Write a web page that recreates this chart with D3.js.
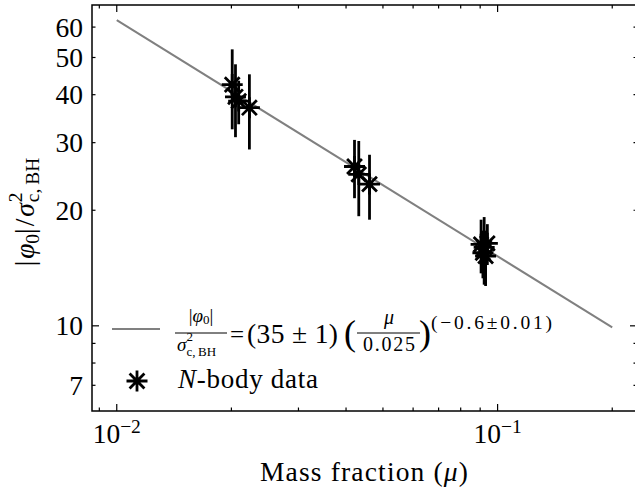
<!DOCTYPE html>
<html><head><meta charset="utf-8">
<script src="https://cdn.jsdelivr.net/npm/d3@7"></script>
<style>
body{margin:0;background:#fff}
svg{display:block}
text{font-family:"Liberation Serif","DejaVu Serif",serif;fill:#000}
</style>
</head><body>
<svg id="chart" width="635" height="489"></svg>
<script>
// ---- data ----
const muValues  = [0.0201, 0.0205, 0.0209, 0.0223, 0.0421, 0.0432, 0.0461, 0.0905, 0.0915, 0.0922, 0.0930, 0.0940];
const phiValues = [42.5, 39.5, 38.5, 37.0, 26.0, 24.8, 23.4, 16.3, 15.5, 16.0, 15.2, 16.4];
const errValues = [10.0, 8.5, 5.0, 8.2, 4.5, 5.5, 4.5, 2.6, 2.2, 3.2, 2.5, 2.0];
const fitAmp = 35.6, fitExp = -0.615, fitRef = 0.025;
const fitRange = [0.01, 0.2];
const xDomain = [0.00861, 0.2323];
const yDomain = [6.0, 68.5];
const xMajorTicks = [0.01, 0.1];
const xTickExponents = ["\u22122", "\u22121"];
const xMinorTicks = [0.009, 0.02, 0.03, 0.04, 0.05, 0.06, 0.07, 0.08, 0.09, 0.2];
const yMajorTicks = [10];
const yMinorTicks = [7, 8, 9, 20, 30, 40, 50, 60];
const yTickLabels = [7, 10, 20, 30, 40, 50, 60];

const svg = d3.select("#chart");
const L = 92, R = 637, T = 5, B = 411;
const x = d3.scaleLog().domain(xDomain).range([L, R]);
const y = d3.scaleLog().domain(yDomain).range([B, T]);

// fit line
const fitPts = fitRange.map(m => [m, fitAmp * Math.pow(m / fitRef, fitExp)]);
svg.append("path")
  .attr("d", d3.line().x(d => x(d[0])).y(d => y(d[1]))(fitPts))
  .attr("stroke", "#808080").attr("stroke-width", 2).attr("fill", "none");

// error bars
const pts = muValues.map((m, i) => ({m, p: phiValues[i], e: errValues[i]}));
svg.append("g").selectAll("line").data(pts).join("line")
  .attr("x1", d => x(d.m)).attr("x2", d => x(d.m))
  .attr("y1", d => y(d.p - d.e)).attr("y2", d => y(d.p + d.e))
  .attr("stroke", "#000").attr("stroke-width", 2.8);

// asterisk markers
function asterisk(r) {
  let s = "";
  for (let k = 0; k < 4; k++) {
    const a = k * Math.PI / 4;
    const dx = r * Math.cos(a), dy = r * Math.sin(a);
    s += `M${-dx},${-dy}L${dx},${dy}`;
  }
  return s;
}
svg.append("g").selectAll("path").data(pts).join("path")
  .attr("transform", d => `translate(${x(d.m)},${y(d.p)})`)
  .attr("d", asterisk(10.5))
  .attr("stroke", "#000").attr("stroke-width", 2.8).attr("fill", "none");

// frame
svg.append("rect").attr("x", L).attr("y", T).attr("width", R - L).attr("height", B - T)
  .attr("fill", "none").attr("stroke", "#000").attr("stroke-width", 1.5);

// ticks (inward, all four sides)
const tg = svg.append("g").attr("stroke", "#000").attr("stroke-width", 1.2);
function xt(vals, len) {
  vals.forEach(v => {
    tg.append("line").attr("x1", x(v)).attr("x2", x(v)).attr("y1", B).attr("y2", B - len);
    tg.append("line").attr("x1", x(v)).attr("x2", x(v)).attr("y1", T).attr("y2", T + len);
  });
}
function yt(vals, len) {
  vals.forEach(v => {
    tg.append("line").attr("y1", y(v)).attr("y2", y(v)).attr("x1", L).attr("x2", L + len);
    tg.append("line").attr("y1", y(v)).attr("y2", y(v)).attr("x1", R).attr("x2", R - len);
  });
}
xt(xMajorTicks, 7); xt(xMinorTicks, 3.5);
yt(yMajorTicks, 7); yt(yMinorTicks, 3.5);

// y tick labels
svg.append("g").selectAll("text").data(yTickLabels).join("text")
  .attr("x", 83).attr("y", d => y(d) + 9.5)
  .attr("text-anchor", "end").attr("font-size", 27.5)
  .text(d => d);

// x tick labels
xMajorTicks.forEach((v, i) => {
  const t = svg.append("text").attr("x", x(v)).attr("y", 443)
    .attr("text-anchor", "middle").attr("font-size", 27.5);
  t.append("tspan").text("10");
  t.append("tspan").attr("font-size", 19.5).attr("dy", -10).text(xTickExponents[i]);
});

// x label
const xl = svg.append("text").attr("x", 364).attr("y", 481)
  .attr("text-anchor", "middle").attr("font-size", 27.5)
  .attr("textLength", 208).attr("lengthAdjust", "spacing");
xl.append("tspan").text("Mass fraction (");
xl.append("tspan").attr("font-style", "italic").text("\u03bc");
xl.append("tspan").text(")");

// y label
const yl = svg.append("text").attr("transform", "translate(34,212) rotate(-90)")
  .attr("text-anchor", "middle").attr("font-size", 27.5);
yl.append("tspan").text("|");
yl.append("tspan").attr("font-style", "italic").attr("dx", 2).text("\u03c6");
yl.append("tspan").attr("font-size", 19.5).attr("dy", 5).text("0");
yl.append("tspan").attr("dy", -5).text("|");
yl.append("tspan").attr("dx", 2).text("/");
yl.append("tspan").attr("font-style", "italic").attr("dx", 2).text("\u03c3");
yl.append("tspan").attr("font-size", 19.5).attr("dy", -12).attr("dx", 1).text("2");
yl.append("tspan").attr("font-size", 19.5).attr("dy", 17).attr("dx", -9.75).text("c,\u2009BH");

// legend
const lg = svg.append("g");
lg.append("line").attr("x1", 112).attr("x2", 160).attr("y1", 329).attr("y2", 329)
  .attr("stroke", "#808080").attr("stroke-width", 2);
// numerator |phi0|
const n1 = lg.append("text").attr("x", 201).attr("y", 322).attr("text-anchor", "middle").attr("font-size", 19);
n1.append("tspan").text("|");
n1.append("tspan").attr("font-style", "italic").text("\u03c6");
n1.append("tspan").attr("font-size", 13).attr("dy", 2).text("0");
n1.append("tspan").attr("dy", -2).text("|");
lg.append("line").attr("x1", 175).attr("x2", 227).attr("y1", 333).attr("y2", 333)
  .attr("stroke", "#000").attr("stroke-width", 1);
const d1 = lg.append("text").attr("x", 177).attr("y", 351).attr("font-size", 19);
d1.append("tspan").attr("font-style", "italic").text("\u03c3");
d1.append("tspan").attr("font-size", 13).attr("dy", -10).text("2");
d1.append("tspan").attr("font-size", 13).attr("dy", 15).attr("dx", -6.5).text("c,\u2009BH");
lg.append("text").attr("x", 230).attr("y", 343).attr("font-size", 25).text("=");
lg.append("text").attr("x", 247).attr("y", 343).attr("font-size", 27.5)
  .attr("textLength", 91).attr("lengthAdjust", "spacing").text("(35 \u00b1 1)");
lg.append("text").attr("x", 344).attr("y", 345).attr("font-size", 36).text("(");
lg.append("text").attr("x", 389).attr("y", 324).attr("text-anchor", "middle")
  .attr("font-size", 20).attr("font-style", "italic").text("\u03bc");
lg.append("line").attr("x1", 357).attr("x2", 420).attr("y1", 333).attr("y2", 333)
  .attr("stroke", "#000").attr("stroke-width", 1);
lg.append("text").attr("x", 389).attr("y", 351).attr("text-anchor", "middle")
  .attr("font-size", 20).attr("textLength", 52).attr("lengthAdjust", "spacing").text("0.025");
lg.append("text").attr("x", 419).attr("y", 345).attr("font-size", 36).text(")");
lg.append("text").attr("x", 431).attr("y", 329).attr("font-size", 19.5)
  .attr("textLength", 121).attr("lengthAdjust", "spacing").text("(\u22120.6\u00b10.01)");
// row 2
lg.append("path").attr("transform", "translate(137,381)").attr("d", asterisk(10.5))
  .attr("stroke", "#000").attr("stroke-width", 2.8).attr("fill", "none");
const t2 = lg.append("text").attr("x", 178).attr("y", 388).attr("font-size", 27)
  .attr("textLength", 140).attr("lengthAdjust", "spacing");
t2.append("tspan").attr("font-style", "italic").text("N");
t2.append("tspan").text("-body data");
</script>
</body></html>
